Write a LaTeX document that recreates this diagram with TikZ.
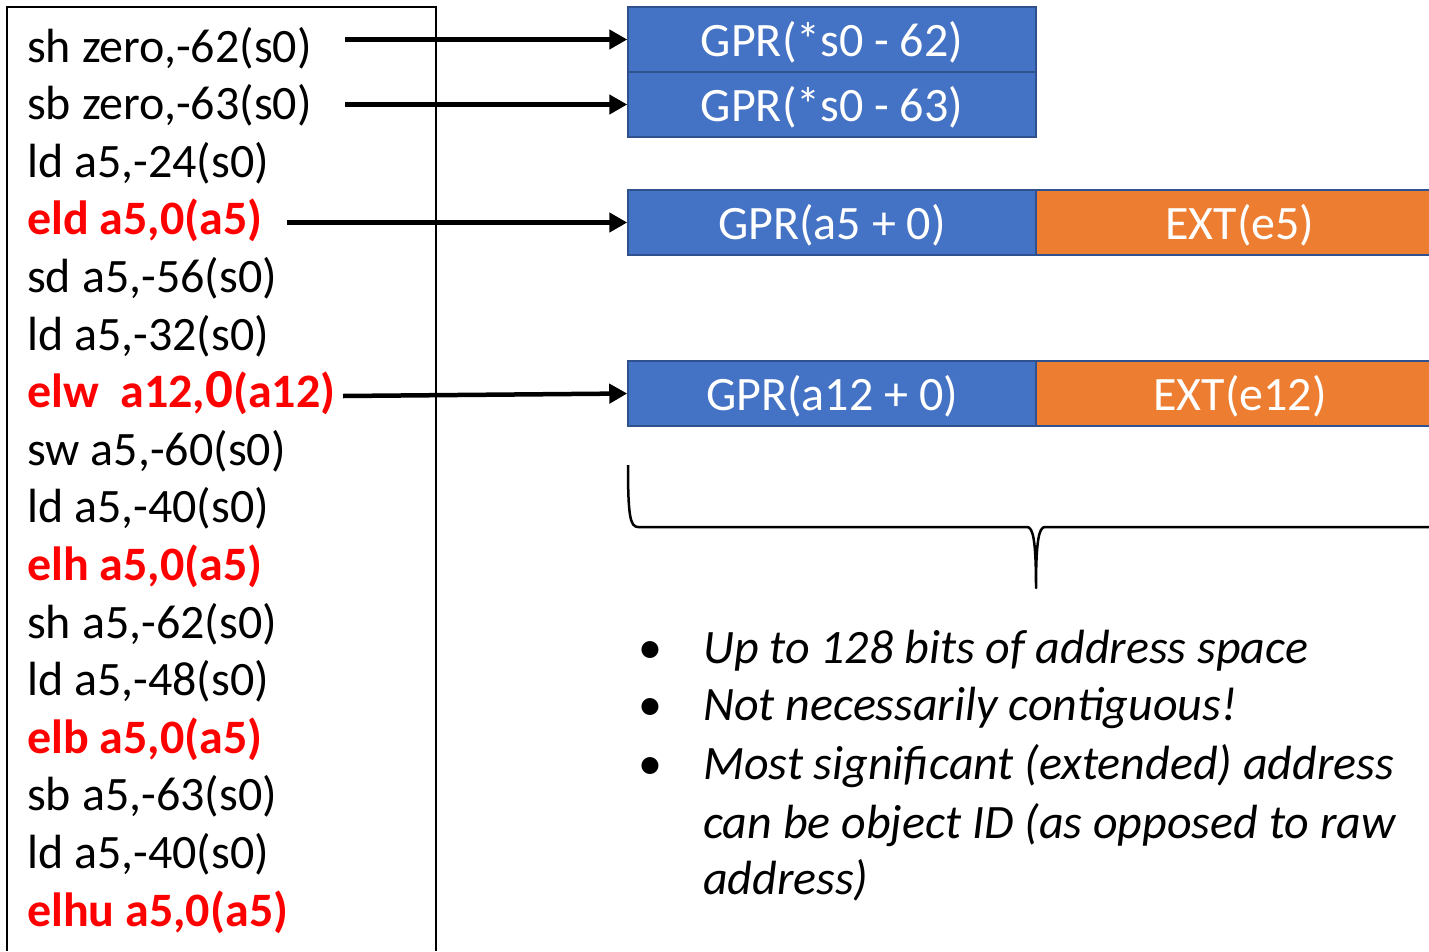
\documentclass[tikz,border=0pt]{standalone}
\usepackage{fontspec}
\setmainfont{Carlito}
\usetikzlibrary{arrows.meta}
\definecolor{boxblue}{HTML}{4472C4}
\definecolor{boxorange}{HTML}{ED7D31}
\definecolor{boxedge}{HTML}{2F528F}
\definecolor{codered}{HTML}{FF0000}
\begin{document}
\begin{tikzpicture}[x=1pt,y=-1pt,
  code/.style={anchor=base west, inner sep=0pt, font=\fontsize{48pt}{56pt}\selectfont},
  hot/.style={anchor=base west, inner sep=0pt, text=codered, font=\fontsize{48pt}{56pt}\selectfont\bfseries},
  gpr/.style={draw=boxedge, line width=1.5pt, fill=boxblue, text=white, minimum width=408pt, minimum height=65pt, inner sep=0pt, text height=34pt, text depth=0pt, font=\fontsize{48pt}{56pt}\selectfont},
  ext/.style={gpr, fill=boxorange},
  arr/.style={line width=4.5pt, -{Triangle[length=18pt,width=19pt]}},
  bul/.style={anchor=base west, inner sep=0pt, font=\fontsize{48pt}{56pt}\selectfont\itshape},
  dot/.style={anchor=base, inner sep=0pt, font=\fontsize{48pt}{56pt}\selectfont}]
\useasboundingbox (0,0) rectangle (1429,951);
\fill[white] (0,0) rectangle (1429,951);

% listing frame
\draw[line width=2pt] (7,951) -- (7,7) -- (436,7) -- (436,951);

% listing
\node[code] (l1)  at (27,62)    {sh zero,-62(s0)};
\node[code] (l2)  at (27,119.6) {sb zero,-63(s0)};
\node[code] (l3)  at (27,177.2) {ld a5,-24(s0)};
\node[hot]  (l4)  at (27,234.8) {eld a5,0(a5)};
\node[code] (l5)  at (27,292.4) {sd a5,-56(s0)};
\node[code] (l6)  at (27,350)   {ld a5,-32(s0)};
\node[hot]  (l7)  at (27,407.6) {elw\ \ a12,{\fontsize{55pt}{56pt}\selectfont 0}(a12)};
\node[code] (l8)  at (27,465.2) {sw a5,-60(s0)};
\node[code] (l9)  at (27,522.8) {ld a5,-40(s0)};
\node[hot]  (l10) at (27,580.4) {elh a5,0(a5)};
\node[code] (l11) at (27,638)   {sh a5,-62(s0)};
\node[code] (l12) at (27,695.6) {ld a5,-48(s0)};
\node[hot]  (l13) at (27,753.2) {elb a5,0(a5)};
\node[code] (l14) at (27,810.8) {sb a5,-63(s0)};
\node[code] (l15) at (27,868.4) {ld a5,-40(s0)};
\node[hot]  (l16) at (27,926)   {elhu a5,0(a5)};

% register boxes
\node[gpr] (g1) at (832,39.5)  {GPR(*s0 - 62)};
\node[gpr] (g2) at (832,104.5) {GPR(*s0 - 63)};
\node[gpr] (g3) at (832,222.5) {GPR(a5 + 0)};
\node[ext] (e3) at (1240,222.5) {EXT(e5)};
\node[gpr] (g4) at (832,393.5) {GPR(a12 + 0)};
\node[ext] (e4) at (1240,393.5) {EXT(e12)};

% arrows
\coordinate (s1) at (345,39.5);
\coordinate (s2) at (345,104.5);
\coordinate (s3) at (287,222.5);
\coordinate (s4) at (343,396);
\draw[arr] (s1) -- (g1.west);
\draw[arr] (s2) -- (g2.west);
\draw[arr] (s3) -- (g3.west);
\draw[arr] (s4) -- (g4.west);

% brace
\draw[line width=2.5pt, line join=round]
  (628,465) .. controls (628,515) and (630,527) .. (638,527)
  -- (1027,527) .. controls (1033,527) and (1036,540) .. (1036,588)
  .. controls (1036,540) and (1039,527) .. (1045,527)
  -- (1440,527);

% notes
\node[dot] (b1) at (650,663) {\textbullet};
\node[dot] (b2) at (650,720) {\textbullet};
\node[dot] (b3) at (650,779) {\textbullet};
\node[bul] (t1) at (703,663) {Up to 128 bits of address space};
\node[bul] (t2) at (703,720) {Not necessarily contiguous!};
\node[bul] (t3) at (703,779) {Most significant (extended) address};
\node[bul] (t4) at (703,838) {can be object ID (as opposed to raw};
\node[bul] (t5) at (703,894) {address)};
\end{tikzpicture}
\end{document}
